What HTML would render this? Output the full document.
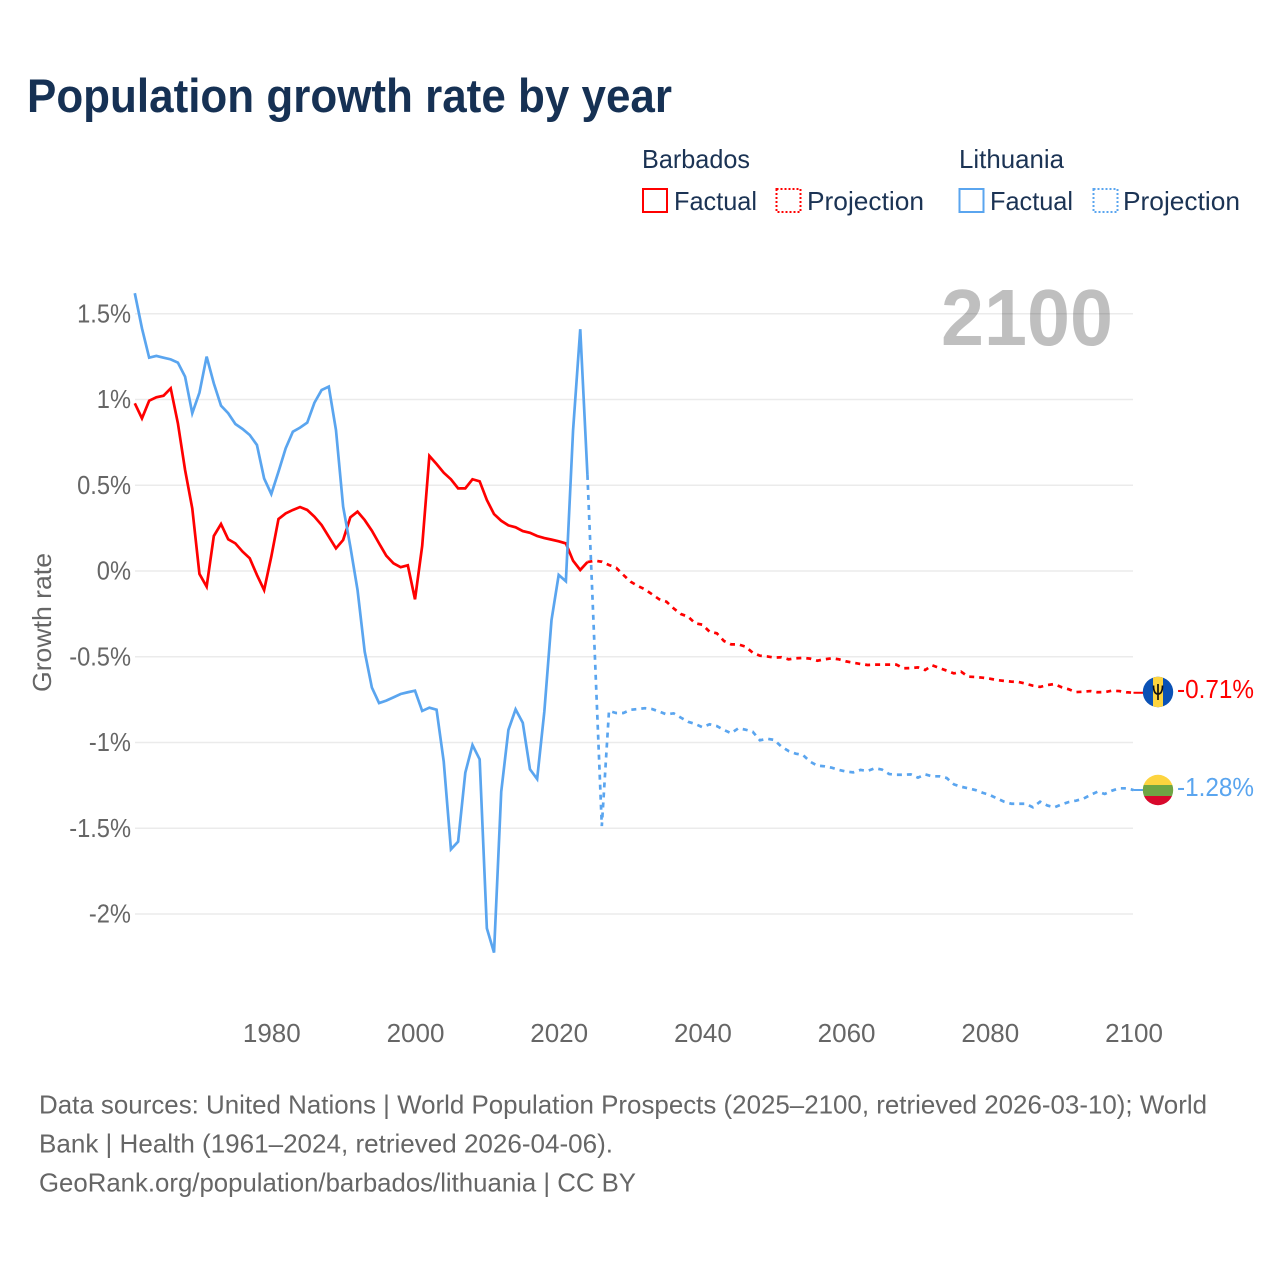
<!DOCTYPE html>
<html lang="en">
<head>
<meta charset="utf-8">
<title>Population growth rate by year</title>
<style>
html,body{margin:0;padding:0;background:#fff;width:1280px;height:1280px;overflow:hidden}
svg{display:block}
text{font-family:"Liberation Sans",Arial,sans-serif}
.leg{font-size:26px;fill:#1b3354}
.tick{font-size:26px;fill:#666}
.foot{font-size:26px;fill:#666}
</style>
</head>
<body>
<svg id="chart" width="1280" height="1280" viewBox="0 0 1280 1280" xmlns="http://www.w3.org/2000/svg">
  <text x="27" y="112" font-size="47" font-weight="700" fill="#163154" textLength="645" lengthAdjust="spacingAndGlyphs">Population growth rate by year</text>

  <g>
    <text class="leg" x="642" y="168" textLength="108" lengthAdjust="spacingAndGlyphs">Barbados</text>
    <text class="leg" x="959" y="168" textLength="105" lengthAdjust="spacingAndGlyphs">Lithuania</text>
    <rect x="643" y="189" width="24" height="23" fill="none" stroke="#ff0000" stroke-width="2"/>
    <text class="leg" x="674" y="210" textLength="83" lengthAdjust="spacingAndGlyphs">Factual</text>
    <rect x="776.5" y="189" width="24" height="23" fill="none" stroke="#ff0000" stroke-width="2" stroke-dasharray="2 2"/>
    <text class="leg" x="807" y="210" textLength="117" lengthAdjust="spacingAndGlyphs">Projection</text>
    <rect x="959.5" y="189" width="24" height="23" fill="none" stroke="#5aa5ef" stroke-width="2"/>
    <text class="leg" x="990" y="210" textLength="83" lengthAdjust="spacingAndGlyphs">Factual</text>
    <rect x="1093.5" y="189" width="24" height="23" fill="none" stroke="#5aa5ef" stroke-width="2" stroke-dasharray="2 2"/>
    <text class="leg" x="1123" y="210" textLength="117" lengthAdjust="spacingAndGlyphs">Projection</text>
  </g>

  <g id="grid"></g>
  <text x="941" y="345" font-size="80" font-weight="700" fill="#000" fill-opacity="0.25" textLength="172" lengthAdjust="spacingAndGlyphs">2100</text>
  <g id="yticks"></g>
  <g id="xticks"></g>
  <text class="tick" transform="translate(51,692) rotate(-90)" x="0" y="0" textLength="139" lengthAdjust="spacingAndGlyphs">Growth rate</text>
  <g id="series"></g>

  <g>
    <clipPath id="clipB"><circle cx="1158" cy="692" r="15.2"/></clipPath>
    <g clip-path="url(#clipB)">
      <rect x="1142" y="676" width="32" height="32" fill="#0a51b5"/>
      <rect x="1153" y="676" width="10" height="32" fill="#fdd43f"/>
      <path d="M1158 684V700M1153.500 685.500C1153.500 691.500 1155 694 1158 694C1161 694 1162.500 691.500 1162.500 685.500" fill="none" stroke="#111" stroke-width="1.700"/>
    </g>
  </g>
  <g>
    <clipPath id="clipL"><circle cx="1158" cy="790" r="15.2"/></clipPath>
    <g clip-path="url(#clipL)">
      <rect x="1142" y="774" width="32" height="11" fill="#fdd43f"/>
      <rect x="1142" y="785" width="32" height="11" fill="#6fa544"/>
      <rect x="1142" y="796" width="32" height="11" fill="#d8092c"/>
    </g>
  </g>
  <text id="endB" x="1177" y="698" font-size="26" fill="#ff0000" textLength="77" lengthAdjust="spacingAndGlyphs">-0.71%</text>
  <text id="endL" x="1177" y="796" font-size="26" fill="#5aa5ef" textLength="77" lengthAdjust="spacingAndGlyphs">-1.28%</text>

  <g>
    <text class="foot" x="39" y="1113.500" textLength="1168" lengthAdjust="spacingAndGlyphs">Data sources: United Nations | World Population Prospects (2025–2100, retrieved 2026-03-10); World</text>
    <text class="foot" x="39" y="1152.500" textLength="574" lengthAdjust="spacingAndGlyphs">Bank | Health (1961–2024, retrieved 2026-04-06).</text>
    <text class="foot" x="39" y="1191.500" textLength="597" lengthAdjust="spacingAndGlyphs">GeoRank.org/population/barbados/lithuania | CC BY</text>
  </g>
</svg>
<script>
const xTickYears = [1980, 2000, 2020, 2040, 2060, 2080, 2100];
const xTickLabels = ["1980", "2000", "2020", "2040", "2060", "2080", "2100"];
const yTickValues = [1.5, 1, 0.5, 0, -0.5, -1, -1.5, -2];
const yTickLabels = ["1.5%", "1%", "0.5%", "0%", "-0.5%", "-1%", "-1.5%", "-2%"];

const factualStartYear = 1961;
const projectionStartYear = 2024;

const barbadosFactual = [0.978,0.89,0.993,1.013,1.022,1.065,0.861,0.589,0.365,-0.017,-0.091,0.204,0.274,0.185,0.161,0.113,0.074,-0.023,-0.111,0.084,0.303,0.336,0.356,0.373,0.356,0.317,0.268,0.2,0.132,0.181,0.313,0.346,0.297,0.235,0.161,0.089,0.045,0.022,0.033,-0.165,0.146,0.671,0.624,0.573,0.535,0.482,0.482,0.535,0.523,0.414,0.332,0.293,0.266,0.255,0.233,0.223,0.204,0.192,0.183,0.173,0.161,0.06,0.006,0.052];
const barbadosProjection = [0.052,0.06,0.054,0.035,0.019,-0.023,-0.062,-0.087,-0.107,-0.136,-0.165,-0.179,-0.218,-0.251,-0.266,-0.305,-0.313,-0.354,-0.363,-0.408,-0.428,-0.428,-0.441,-0.476,-0.494,-0.498,-0.505,-0.503,-0.515,-0.509,-0.507,-0.511,-0.523,-0.515,-0.509,-0.515,-0.527,-0.535,-0.542,-0.548,-0.546,-0.546,-0.546,-0.546,-0.567,-0.566,-0.562,-0.577,-0.55,-0.566,-0.581,-0.597,-0.587,-0.616,-0.618,-0.622,-0.628,-0.636,-0.641,-0.645,-0.647,-0.657,-0.669,-0.676,-0.665,-0.659,-0.678,-0.69,-0.706,-0.704,-0.7,-0.707,-0.706,-0.698,-0.7,-0.707,-0.71];
const lithuaniaFactual = [1.62,1.415,1.244,1.254,1.244,1.234,1.215,1.133,0.92,1.04,1.25,1.094,0.964,0.92,0.857,0.828,0.793,0.735,0.54,0.449,0.579,0.715,0.812,0.836,0.865,0.981,1.055,1.075,0.822,0.375,0.142,-0.11,-0.47,-0.68,-0.77,-0.756,-0.737,-0.717,-0.707,-0.698,-0.816,-0.797,-0.809,-1.112,-1.623,-1.578,-1.176,-1.015,-1.098,-2.083,-2.225,-1.287,-0.927,-0.807,-0.885,-1.156,-1.213,-0.82,-0.286,-0.023,-0.06,0.82,1.41,0.56];
const lithuaniaProjection = [0.56,-0.46,-1.487,-0.816,-0.828,-0.828,-0.809,-0.805,-0.8,-0.805,-0.82,-0.836,-0.83,-0.855,-0.879,-0.892,-0.911,-0.894,-0.904,-0.927,-0.946,-0.917,-0.925,-0.937,-0.987,-0.978,-0.985,-1.024,-1.05,-1.065,-1.073,-1.112,-1.135,-1.139,-1.147,-1.16,-1.17,-1.174,-1.16,-1.166,-1.15,-1.158,-1.184,-1.188,-1.188,-1.186,-1.205,-1.186,-1.197,-1.197,-1.207,-1.244,-1.258,-1.267,-1.277,-1.293,-1.306,-1.326,-1.345,-1.357,-1.357,-1.357,-1.378,-1.345,-1.367,-1.378,-1.361,-1.347,-1.339,-1.328,-1.306,-1.287,-1.3,-1.281,-1.267,-1.267,-1.277];

const NS = "http://www.w3.org/2000/svg";
function xScale(year) { return 415 + (year - 2000) * 7.185; }
function yScale(value) { return 571 - value * 171.5; }
function linePath(values, startYear) {
  return values.map(function (v, i) {
    return (i ? "L" : "M") + xScale(startYear + i).toFixed(2) + " " + yScale(v).toFixed(2);
  }).join("");
}
const gridGroup = document.getElementById("grid");
const yGroup = document.getElementById("yticks");
const xGroup = document.getElementById("xticks");
const seriesGroup = document.getElementById("series");

yTickValues.forEach(function (v, i) {
  const line = document.createElementNS(NS, "line");
  
  
  line.setAttribute("x1", 135);
  line.setAttribute("x2", 1133);
  line.setAttribute("y1", yScale(v));
  line.setAttribute("y2", yScale(v));
  line.setAttribute("stroke", "#ebebeb");
  line.setAttribute("stroke-width", 1.5);
  gridGroup.appendChild(line);

  const label = document.createElementNS(NS, "text");
  
  
  label.setAttribute("class", "tick");
  label.setAttribute("x", 131);
  label.setAttribute("y", yScale(v) + 8.5);
  label.setAttribute("text-anchor", "end");
  label.textContent = yTickLabels[i];
  yGroup.appendChild(label);
  label.setAttribute("lengthAdjust", "spacingAndGlyphs");
  label.setAttribute("textLength", (label.getComputedTextLength() * 0.91).toFixed(1));
});

xTickYears.forEach(function (year, i) {
  const label = document.createElementNS(NS, "text");
  
  
  label.setAttribute("class", "tick");
  label.setAttribute("x", xScale(year) + 0.5);
  label.setAttribute("y", 1042);
  label.setAttribute("text-anchor", "middle");
  label.textContent = xTickLabels[i];
  xGroup.appendChild(label);
});

function addSeries(name, d, color, dashed) {
  const path = document.createElementNS(NS, "path");
  
  
  path.setAttribute("d", d);
  path.setAttribute("fill", "none");
  path.setAttribute("stroke", color);
  path.setAttribute("stroke-width", 2.7);
  path.setAttribute("stroke-linejoin", "miter");
  if (dashed) path.setAttribute("stroke-dasharray", "5 5");
  seriesGroup.appendChild(path);
}
function addConnector(name, value, color) {
  const line = document.createElementNS(NS, "line");
  
  
  line.setAttribute("x1", xScale(2100));
  line.setAttribute("x2", 1144);
  line.setAttribute("y1", yScale(value));
  line.setAttribute("y2", yScale(value));
  line.setAttribute("stroke", color);
  line.setAttribute("stroke-width", 2);
  seriesGroup.appendChild(line);
}
const RED = "#ff0000";
const BLUE = "#5aa5ef";
addSeries("line-barbados-factual", linePath(barbadosFactual, factualStartYear), RED, false);
addSeries("line-barbados-projection", linePath(barbadosProjection, projectionStartYear), RED, true);
addConnector("connector-barbados", barbadosProjection[barbadosProjection.length - 1], RED);
addSeries("line-lithuania-factual", linePath(lithuaniaFactual, factualStartYear), BLUE, false);
addSeries("line-lithuania-projection", linePath(lithuaniaProjection, projectionStartYear), BLUE, true);
addConnector("connector-lithuania", lithuaniaProjection[lithuaniaProjection.length - 1], BLUE);
</script>
</body>
</html>
